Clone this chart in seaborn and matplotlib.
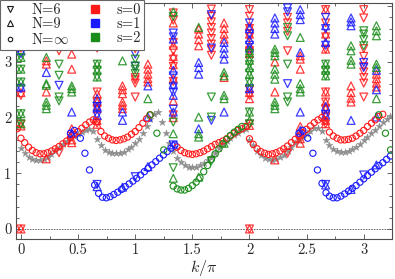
import numpy as np
import pandas as pd
import seaborn as sns
import matplotlib.pyplot as plt
from matplotlib.lines import Line2D
from matplotlib.ticker import MultipleLocator

# =========================
# DATA  (k in units of pi, energies)
# =========================

# finite chains: one list of levels per momentum column
k6 = [0, 1/3, 2/3, 1, 4/3, 5/3, 2, 7/3, 8/3, 3]
n6_s0 = [[0.0, 1.88, 2.40, 3.25, 3.45, 3.62, 3.88],
         [1.37, 3.20, 3.55, 3.75],
         [1.90, 2.16, 2.28, 2.46, 3.25, 3.45, 3.70, 3.94],
         [2.37, 2.62, 2.68, 2.72, 3.24, 3.79, 3.94],
         [2.05, 2.65, 2.92, 3.05, 3.20, 3.35, 3.75, 3.88],
         [3.12, 3.22, 3.32, 3.42, 3.52, 3.62, 3.72, 3.82, 3.95],
         [0.0, 1.88, 2.40, 2.50, 3.20, 3.45, 3.60, 3.82, 3.94],
         [1.36, 3.20, 3.55, 3.70, 3.80],
         [1.89, 2.00, 2.16, 2.28, 2.46, 3.23, 3.45, 3.70, 3.94],
         [2.37, 2.62, 2.72, 2.82, 2.92, 3.10, 3.24, 3.79, 3.94]]
n6_s1 = [[2.52, 3.15, 3.55, 3.72],
         [2.58, 3.88],
         [0.80, 2.04, 2.20, 3.35, 3.60, 3.80],
         [0.94, 2.92, 3.14],
         [1.51, 2.15, 2.45, 2.55, 2.75, 3.45, 3.52],
         [1.95, 3.25, 3.85],
         [2.52, 3.30, 3.50, 3.70],
         [2.61, 3.90, 3.97],
         [0.80, 2.05, 3.30, 3.60, 3.80],
         [0.97, 2.90, 2.99]]
n6_s2 = [[1.89, 2.07, 2.64, 2.87, 3.08, 3.35],
         [2.30, 2.37, 2.76, 2.96, 3.50],
         [2.73, 2.85, 2.96],
         [2.79, 2.87, 2.93, 3.05, 3.35, 3.50],
         [1.10, 1.92, 3.82],
         [1.22, 2.01, 2.37],
         [1.89, 2.10, 2.64, 2.80, 2.95, 3.03, 3.15],
         [2.28, 2.37, 2.96, 3.47, 3.62],
         [2.75, 2.85, 2.96],
         [3.29, 3.40, 3.50, 3.56]]

k9 = [0, 2/9, 4/9, 6/9, 8/9, 10/9, 12/9, 14/9, 16/9, 2, 20/9, 22/9, 24/9, 26/9, 28/9]
n9_s0 = [[0.0, 1.85, 2.45, 3.30, 3.50],
         [1.26, 2.46, 2.96, 3.02, 3.40],
         [1.55, 1.60, 1.71, 1.80, 2.87, 3.14, 3.60],
         [1.88, 1.95, 2.16, 2.28, 2.43, 3.30, 3.60],
         [2.16, 2.22, 2.28, 2.43, 2.50, 2.57, 3.50],
         [2.64, 2.70, 2.78, 2.87, 2.96],
         [2.00, 2.30, 2.70, 2.95, 3.10, 3.30, 3.70],
         [3.29, 3.40, 3.50, 3.59],
         [2.72, 3.41, 3.50, 3.60, 3.70],
         [0.0, 1.86, 2.34, 2.45, 3.15, 3.30, 3.50, 3.65],
         [1.24, 2.46, 3.00],
         [1.54, 1.62, 1.71, 1.84, 2.87, 3.05, 3.11],
         [1.89, 1.95, 2.16, 2.28, 2.46, 3.23, 3.50, 3.94],
         [2.28, 2.35, 2.45, 2.57],
         [2.55, 2.62, 2.70, 2.78]]
n9_s1 = [[2.55, 3.20, 3.65],
         [2.81, 3.70],
         [1.72, 2.10, 3.80],
         [0.76, 2.04, 2.20, 2.34, 3.50],
         [0.75, 1.95, 2.10, 3.70],
         [1.12, 2.01, 2.57],
         [1.51, 2.10, 2.40, 2.60, 2.85, 3.41],
         [1.80, 2.78, 2.90, 2.99],
         [2.10, 3.05, 3.15, 3.25, 3.35],
         [2.52, 3.25, 3.40, 3.60],
         [3.50, 3.60, 3.70, 3.79],
         [1.77, 2.10, 3.17, 3.76, 3.85, 3.94],
         [0.79, 2.05, 2.20, 3.35, 3.65],
         [0.71, 1.95, 3.65, 3.72, 3.79],
         [1.15, 2.01, 2.50, 2.85]]
n9_s2 = [[1.89, 2.07, 2.64, 2.87, 3.08],
         [2.16, 2.22, 2.28, 2.58, 2.61, 3.08],
         [2.46, 2.52, 2.57],
         [2.73, 2.85, 2.96],
         [3.02, 3.40],
         [2.34],
         [0.91, 1.71, 3.90],
         [0.93, 1.65, 1.71, 2.01, 3.62],
         [1.54, 2.34, 2.40, 2.75, 2.81],
         [1.95, 2.10, 2.64, 2.78, 2.90, 3.03, 3.20],
         [2.16, 2.22, 2.28, 2.69, 2.78, 2.87, 3.11, 3.17, 3.23],
         [2.46, 2.52, 2.61, 3.44],
         [2.75, 2.85, 2.96],
         [2.96, 3.03, 3.20, 3.29],
         [2.34, 2.90, 2.96, 3.47, 3.56, 3.65]]

# infinite chain branches
inf_s0_k = [-0.033, 0.0, 0.033, 0.067, 0.10, 0.133, 0.167, 0.20, 0.233, 0.267, 0.30, 0.333,
            0.367, 0.40, 0.433, 0.467, 0.50, 0.533, 0.567, 0.60, 0.633, 0.66,
            0.70, 0.733, 0.767, 0.80, 0.833, 0.867, 0.90, 0.933, 0.967, 1.00, 1.033, 1.067, 1.10, 1.13,
            1.367, 1.40, 1.433, 1.467, 1.50, 1.533, 1.567, 1.60, 1.633, 1.667, 1.70, 1.733, 1.767,
            1.80, 1.833, 1.867, 1.90, 1.933, 1.967,
            2.00, 2.033, 2.067, 2.10, 2.133, 2.167, 2.20, 2.233, 2.267, 2.30, 2.333, 2.367, 2.40,
            2.433, 2.467, 2.50, 2.533, 2.567, 2.60, 2.633, 2.66,
            2.70, 2.733, 2.767, 2.80, 2.833, 2.867, 2.90, 2.933, 2.967, 3.00, 3.033, 3.067, 3.10,
            3.133, 3.167]
inf_s0_e = [1.80, 1.63, 1.55, 1.47, 1.41, 1.37, 1.35, 1.35, 1.37, 1.40, 1.44, 1.48,
            1.53, 1.58, 1.64, 1.70, 1.75, 1.81, 1.87, 1.92, 1.96, 1.93,
            1.75, 1.67, 1.63, 1.60, 1.59, 1.60, 1.62, 1.65, 1.70, 1.75, 1.82, 1.90, 1.98, 2.05,
            1.47, 1.41, 1.37, 1.35, 1.34, 1.35, 1.37, 1.40, 1.44, 1.48, 1.52, 1.55, 1.58,
            1.62, 1.67, 1.72, 1.77, 1.80, 1.84,
            1.62, 1.52, 1.44, 1.39, 1.36, 1.34, 1.35, 1.37, 1.40, 1.44, 1.49, 1.55, 1.61,
            1.67, 1.73, 1.79, 1.85, 1.91, 1.96, 2.00, 1.95,
            1.74, 1.67, 1.63, 1.60, 1.60, 1.61, 1.63, 1.67, 1.72, 1.77, 1.84, 1.90, 1.96,
            2.02, 2.06]

inf_s1_k = [0.433, 0.467, 0.52, 0.56, 0.60, 0.645, 0.68, 0.713, 0.747, 0.78, 0.813, 0.847,
            0.88, 0.913, 0.947, 0.98, 1.013, 1.047, 1.08, 1.113, 1.147, 1.18, 1.213, 1.247,
            1.28, 1.313, 1.347,
            2.433, 2.467, 2.51, 2.555, 2.595, 2.635, 2.67, 2.70, 2.733, 2.767, 2.80, 2.833,
            2.867, 2.90, 2.933, 2.967, 3.00, 3.033, 3.067, 3.10, 3.133, 3.167, 3.20, 3.233]
inf_s1_e = [1.72, 1.77, 1.63, 1.36, 1.06, 0.79, 0.64, 0.57, 0.56, 0.58, 0.62, 0.66,
            0.71, 0.76, 0.81, 0.86, 0.91, 0.97, 1.03, 1.09, 1.15, 1.21, 1.27, 1.33,
            1.39, 1.45, 1.51,
            1.72, 1.77, 1.63, 1.36, 1.06, 0.82, 0.65, 0.59, 0.56, 0.56, 0.59, 0.63,
            0.68, 0.73, 0.78, 0.84, 0.90, 0.96, 1.02, 1.08, 1.14, 1.19, 1.25, 1.31]

inf_s2_k = [1.13, 1.19, 1.25, 1.333, 1.367, 1.40, 1.433, 1.467, 1.50, 1.533, 1.567, 1.60,
            1.633, 1.667, 1.70, 1.733, 1.767, 1.80, 1.833, 1.867, 1.90, 1.933,
            3.13, 3.19, 3.235]
inf_s2_e = [2.05, 1.72, 1.42, 0.77, 0.72, 0.70, 0.70, 0.73, 0.78, 0.84, 0.92, 1.03,
            1.14, 1.25, 1.35, 1.44, 1.53, 1.61, 1.68, 1.74, 1.79, 1.84,
            2.05, 1.72, 1.42]

# grey star branch
star_k = [0.0, 0.033, 0.067, 0.10, 0.133, 0.167, 0.20, 0.233, 0.267, 0.30, 0.333, 0.367,
          0.40, 0.433, 0.467, 0.50, 0.533, 0.567, 0.60, 0.633,
          0.667, 0.70, 0.733, 0.767, 0.80, 0.833, 0.867, 0.90, 0.933, 0.967, 1.00, 1.033,
          1.067, 1.10, 1.133, 1.167, 1.20,
          1.233, 1.267, 1.30, 1.333, 1.367, 1.40, 1.433, 1.467, 1.50, 1.533, 1.567, 1.60,
          1.633, 1.667, 1.70, 1.733, 1.767, 1.80, 1.833, 1.867, 1.90, 1.933, 1.967,
          2.00, 2.033, 2.067, 2.10, 2.133, 2.167, 2.20, 2.233, 2.267, 2.30, 2.333, 2.367,
          2.40, 2.433, 2.467, 2.50, 2.533, 2.567, 2.60, 2.633,
          2.667, 2.70, 2.733, 2.767, 2.80, 2.833, 2.867, 2.90, 2.933, 2.967, 3.00, 3.033,
          3.067, 3.10, 3.133, 3.167, 3.20, 3.233]
star_e = [1.45, 1.36, 1.30, 1.26, 1.24, 1.24, 1.26, 1.30, 1.35, 1.40, 1.46, 1.52,
          1.58, 1.63, 1.67, 1.71, 1.75, 1.78, 1.80, 1.76,
          1.62, 1.50, 1.42, 1.38, 1.36, 1.36, 1.37, 1.39, 1.43, 1.48, 1.54, 1.62,
          1.72, 1.85, 1.98, 2.06, 2.10,
          1.93, 1.72, 1.55, 1.40, 1.28, 1.20, 1.15, 1.12, 1.11, 1.12, 1.15, 1.19,
          1.24, 1.30, 1.37, 1.45, 1.52, 1.58, 1.63, 1.68, 1.73, 1.77, 1.80,
          1.60, 1.50, 1.40, 1.33, 1.28, 1.25, 1.24, 1.25, 1.29, 1.33, 1.40, 1.47,
          1.54, 1.60, 1.66, 1.71, 1.76, 1.81, 1.82, 1.76,
          1.60, 1.50, 1.44, 1.40, 1.38, 1.38, 1.40, 1.43, 1.47, 1.53, 1.59, 1.65,
          1.72, 1.78, 1.85, 1.92, 1.98, 2.03]

spin_colors = ["#ff1a1a", "#1a1aff", "#1a8c1a"]


def columns(ks, levels):
    return pd.DataFrame({"k": [k for k, es in zip(ks, levels) for _ in es],
                         "E": [e for es in levels for e in es]})


# =========================
# FIGURE
# =========================

sns.set_theme(style="ticks")
plt.rcParams["font.family"] = ["cmr10", "DejaVu Serif"]
plt.rcParams["mathtext.fontset"] = "cm"
plt.rcParams["axes.formatter.use_mathtext"] = True
plt.rcParams["axes.unicode_minus"] = False

fig = plt.figure(figsize=(3.95, 2.79), dpi=100)
ax = fig.add_axes([0.0397, 0.1434, 0.952, 0.8441])

ax.axhline(0, color="0.35", ls=(0, (2, 1.2)), lw=0.6, zorder=1)

sns.scatterplot(x=star_k, y=star_e, marker="*", s=28, color="#8f8f8f",
                edgecolor="#8f8f8f", linewidth=0.3, ax=ax, zorder=2)

for levels6, levels9, col in zip([n6_s0, n6_s1, n6_s2], [n9_s0, n9_s1, n9_s2], spin_colors):
    d6 = columns(k6, levels6)
    d9 = columns(k9, levels9)
    sns.scatterplot(data=d6, x="k", y="E", marker="v", s=32, facecolor="none",
                    edgecolor=col, color=col, linewidth=0.9, alpha=0.85, ax=ax, zorder=3)
    sns.scatterplot(data=d9, x="k", y="E", marker="^", s=32, facecolor="none",
                    edgecolor=col, color=col, linewidth=0.9, alpha=0.85, ax=ax, zorder=3)

for kk, ee, col in zip([inf_s0_k, inf_s1_k, inf_s2_k], [inf_s0_e, inf_s1_e, inf_s2_e], spin_colors):
    sns.scatterplot(x=kk, y=ee, marker="o", s=20, facecolor="none", edgecolor=col,
                    color=col, linewidth=0.8, ax=ax, zorder=4)

ax.set_xlim(-0.046, 3.245)
ax.set_ylim(-0.18, 4.05)
ax.set_xticks([0, 0.5, 1, 1.5, 2, 2.5, 3])
ax.set_xticklabels(["0", "0.5", "1", "1.5", "2", "2.5", "3"])
ax.set_yticks([0, 1, 2, 3, 4])
ax.set_yticklabels(["0", "1", "2", "3", "4"])
ax.xaxis.set_minor_locator(MultipleLocator(0.25))
ax.yaxis.set_minor_locator(MultipleLocator(0.2))
ax.tick_params(which="both", direction="in", top=True, right=True, labelsize=10.5,
               width=0.6, color="0.3")
ax.tick_params(which="major", length=3.5, pad=3)
ax.tick_params(which="minor", length=2)
for sp in ax.spines.values():
    sp.set_linewidth(0.8)
    sp.set_color("0.3")
ax.set_xlabel(r"$k/\pi$", fontsize=11.5, labelpad=1)
ax.set_ylabel("")

handles = [Line2D([], [], ls="none", marker="v", mfc="none", mec="k", ms=5, mew=0.8, label="N=6"),
           Line2D([], [], ls="none", marker="^", mfc="none", mec="k", ms=5, mew=0.8, label="N=9"),
           Line2D([], [], ls="none", marker="o", mfc="none", mec="k", ms=3.2, mew=0.8, label=r"N=$\infty$"),
           Line2D([], [], ls="none", marker="s", mfc=spin_colors[0], mec=spin_colors[0], ms=5.5, label="s=0"),
           Line2D([], [], ls="none", marker="s", mfc=spin_colors[1], mec=spin_colors[1], ms=5.5, label="s=1"),
           Line2D([], [], ls="none", marker="s", mfc=spin_colors[2], mec=spin_colors[2], ms=5.5, label="s=2")]
leg = ax.legend(handles=handles, ncol=2, loc="upper left", bbox_to_anchor=(0, 1),
                bbox_transform=fig.transFigure, borderaxespad=0, fancybox=False,
                edgecolor="0.4", framealpha=1, fontsize=10.5, handlelength=0.9,
                handletextpad=1.0, columnspacing=1.3, labelspacing=0.02, borderpad=0.25)
leg.get_frame().set_linewidth(0.8)

fig.savefig("out.png", dpi=100)
